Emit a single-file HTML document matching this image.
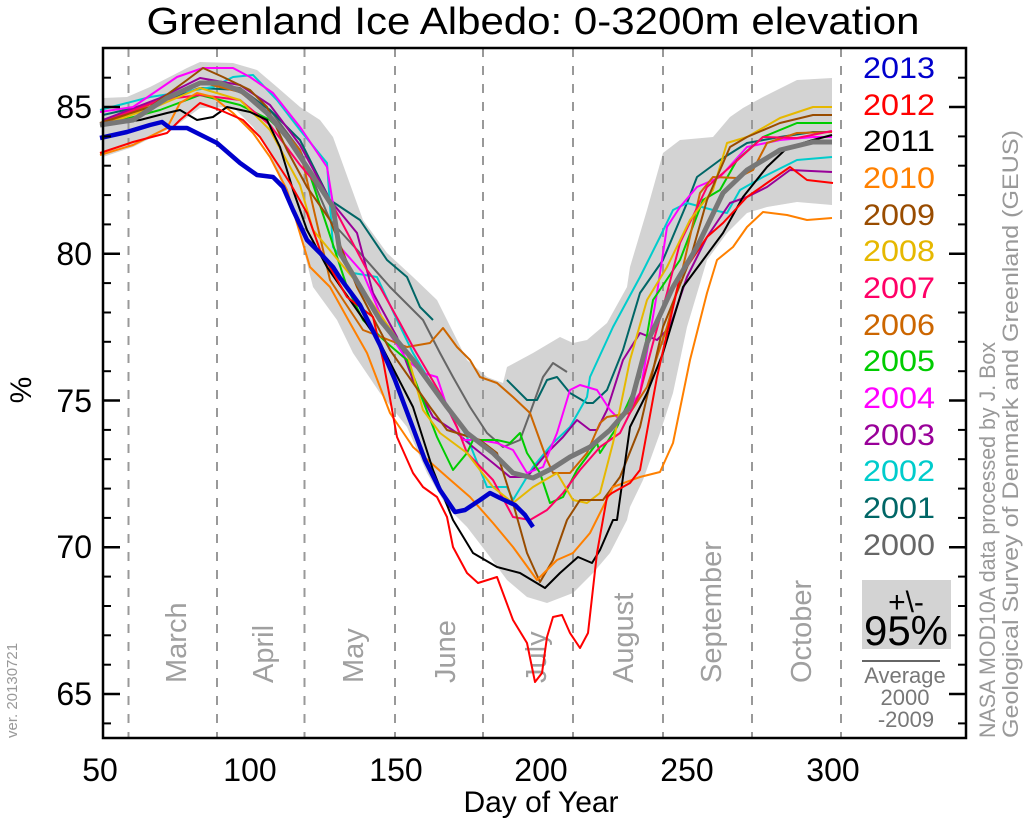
<!DOCTYPE html>
<html><head><meta charset="utf-8"><style>
html,body{margin:0;padding:0;background:#fff}
svg{display:block}
text{font-family:"Liberation Sans",sans-serif}
</style></head><body>
<svg width="1024" height="825" viewBox="0 0 1024 825" xmlns="http://www.w3.org/2000/svg">
<rect width="1024" height="825" fill="#fff"/>
<text x="533" y="34" font-size="38" text-anchor="middle" textLength="773" lengthAdjust="spacingAndGlyphs">Greenland Ice Albedo: 0-3200m elevation</text>

<polygon fill="#d3d3d3" points="103,98 127,97 150,87 187,68 200,62 233,63 257,70 277,87 300,107 320,120 333,137 363,220 387,253 413,277 437,300 447,320 467,360 487,377 503,383 507,367 533,353 560,337 573,343 587,340 607,323 627,287 630,267 647,210 663,153 680,140 713,137 730,117 743,108 763,97 797,80 832,78 832,205 797,202 767,207 747,213 727,233 707,260 687,327 673,393 660,433 643,480 630,507 627,520 610,553 593,573 573,593 547,603 527,597 507,580 487,553 467,527 447,507 427,473 407,427 380,393 353,353 337,320 313,287 297,223 280,180 267,147 253,127 233,107 200,108 177,125 133,147 103,157"/>

<g stroke="#999" stroke-width="2" stroke-dasharray="9,9">
<line x1="128.5" y1="48" x2="128.5" y2="738"/><line x1="217" y1="48" x2="217" y2="738"/><line x1="304.5" y1="48" x2="304.5" y2="738"/><line x1="395" y1="48" x2="395" y2="738"/><line x1="483" y1="48" x2="483" y2="738"/><line x1="573" y1="48" x2="573" y2="738"/><line x1="663" y1="48" x2="663" y2="738"/><line x1="752" y1="48" x2="752" y2="738"/><line x1="841" y1="48" x2="841" y2="738"/>
</g>
<g fill="#a0a0a0" font-size="29">
<text transform="translate(186,683) rotate(-90)">March</text>
<text transform="translate(273,683) rotate(-90)">April</text>
<text transform="translate(363,683) rotate(-90)">May</text>
<text transform="translate(455,683) rotate(-90)">June</text>
<text transform="translate(546,683) rotate(-90)">July</text>
<text transform="translate(633,683) rotate(-90)">August</text>
<text transform="translate(721,683) rotate(-90)">September</text>
<text transform="translate(811,683) rotate(-90)">October</text>
</g>

<g fill="none" stroke-width="2" stroke-linejoin="round">
<polyline stroke="#666" points="103,120 160,100 200,82 240,88 270,110 300,150 330,220 360,253 390,287 423,320 440,353 453,377 470,407 487,433 503,447 520,440 530,413 543,377 553,363 567,372"/>
<polyline stroke="#006666" points="103,115 160,102 200,88 240,90 270,110 300,140 330,200 360,220 387,260 407,277 420,307 433,320"/>
<polyline stroke="#006666" points="507,380 527,400 537,400 547,380 557,377 570,393 587,403 593,403 607,390 623,350 640,293 663,260 687,203 697,177 720,160 747,143 780,137 813,132 832,132"/>
<polyline stroke="#00cccc" points="100,110 150,97 183,92 213,87 233,77 253,75 277,100 300,130 327,163 333,247 353,273 377,277 397,320 413,353 437,393 453,413 467,437 487,487 507,487 513,500 533,467 553,443 570,427 587,397 590,377 613,327 640,277 660,237 673,210 687,203 713,210 727,213 740,190 763,177 797,160 832,157"/>
<polyline stroke="#990099" points="103,120 160,98 200,78 240,85 270,105 300,145 330,200 357,233 373,293 397,337 413,380 433,417 457,433 473,447 493,463 510,477 527,477 547,453 563,437 577,420 590,430 597,430 607,410 623,360 640,333 657,340 670,327 687,277 707,237 730,203 747,197 767,187 790,170 832,172"/>
<polyline stroke="#ff00ff" points="100,112 133,107 177,77 203,68 233,68 250,77 273,93 300,127 327,167 340,247 363,273 387,330 407,360 423,373 437,377 447,407 463,440 480,440 497,443 513,450 527,473 543,467 557,433 570,390 580,385 597,390 610,410 620,420 640,393 657,293 667,227 680,207 697,187 720,177 747,147 780,140 813,137 832,137"/>
<polyline stroke="#00cc00" points="103,125 160,110 200,95 240,105 270,120 290,140 310,175 347,287 363,320 387,343 407,360 420,393 437,437 453,470 467,453 473,440 497,440 510,443 520,433 527,453 540,473 550,503 563,497 577,470 597,443 600,453 617,427 640,377 653,300 680,260 703,200 720,190 737,160 763,137 797,123 832,123"/>
<polyline stroke="#cc6600" points="103,125 160,100 200,82 240,92 270,115 300,150 330,280 363,330 407,347 430,343 443,328 457,347 470,360 480,377 497,383 513,397 530,413 547,460 553,473 570,473 587,453 600,423 607,417 630,413 647,387 667,327 683,267 700,193 713,177 737,178 753,170 767,143 797,133 832,132"/>
<polyline stroke="#ff0066" points="103,122 160,100 200,95 240,100 270,125 300,165 330,200 367,270 380,287 400,323 413,347 440,393 457,427 467,453 493,480 513,517 530,520 547,510 563,493 580,470 600,447 620,433 640,393 653,343 667,293 680,243 707,187 730,167 763,137 797,138 832,131"/>
<polyline stroke="#e6b800" points="103,125 160,105 200,88 240,100 270,130 300,185 313,230 363,290 407,353 423,410 440,433 467,453 493,487 513,503 533,487 557,473 573,500 587,503 600,493 613,443 630,360 647,300 667,267 690,220 713,190 727,143 747,137 780,118 813,107 832,107"/>
<polyline stroke="#994c00" points="100,123 150,107 187,80 203,68 223,77 250,90 267,107 287,150 307,187 330,220 357,287 390,350 430,407 447,430 480,440 497,453 513,503 527,553 540,582 553,560 567,520 580,500 603,500 620,477 640,427 663,327 690,260 707,200 720,170 730,147 747,137 780,123 813,115 832,115"/>
<polyline stroke="#ff8000" points="100,155 133,145 167,128 180,103 197,93 213,97 233,113 253,133 270,157 287,190 310,267 330,287 350,323 367,353 390,413 413,447 447,477 470,497 493,523 513,547 537,580 557,560 573,553 590,533 613,487 640,477 660,472 673,443 690,360 707,293 717,260 733,247 747,227 763,212 787,215 807,220 832,218"/>
<polyline stroke="#000" points="100,125 140,120 167,113 180,110 197,120 213,117 227,107 250,112 267,120 280,147 293,190 307,230 327,267 380,343 413,407 433,470 453,520 473,553 497,567 520,573 545,588 560,573 578,557 592,563 600,550 613,520 617,520 630,427 647,393 663,353 683,287 703,260 723,233 743,197 767,167 787,148 813,140 832,135"/>
<polyline stroke="#ff0000" points="100,153 133,142 167,133 180,120 200,103 220,110 243,120 260,137 273,157 290,183 307,213 320,250 347,297 373,317 383,360 397,437 413,473 423,487 437,497 447,517 453,547 467,573 478,583 497,577 513,620 527,643 535,682 542,673 547,637 553,617 562,615 570,633 580,648 588,633 597,553 607,497 612,493 630,483 640,470 657,377 680,277 707,237 723,223 747,197 767,183 790,167 807,180 833,183"/>
</g>
<polyline fill="none" stroke="#777" stroke-width="5" stroke-linejoin="round" points="100,125 133,120 167,98 200,83 220,83 243,92 267,113 287,137 307,167 333,207 340,253 380,320 413,360 447,407 467,433 493,453 513,473 533,478 553,468 570,457 590,447 610,430 630,407 647,343 673,287 697,247 723,193 747,170 780,150 813,142 832,142"/>
<polyline fill="none" stroke="#0000cc" stroke-width="4.5" stroke-linejoin="round" points="100,138 127,132 150,125 162,122 170,128 187,128 217,143 240,163 257,175 273,177 283,187 293,210 307,240 320,253 333,267 340,278 360,305 380,345 395,380 410,420 425,460 440,490 455,512 465,510 480,500 490,493 500,498 515,505 525,515 533,527"/>

<rect x="103" y="48" width="863" height="690" fill="none" stroke="#000" stroke-width="2.5"/>
<g stroke="#000" stroke-width="2.5">
<line x1="103" y1="107" x2="120" y2="107"/><line x1="103" y1="253.8" x2="120" y2="253.8"/><line x1="103" y1="400.5" x2="120" y2="400.5"/><line x1="103" y1="547.3" x2="120" y2="547.3"/><line x1="103" y1="694" x2="120" y2="694"/>
<line x1="966" y1="107" x2="949" y2="107"/><line x1="966" y1="253.8" x2="949" y2="253.8"/><line x1="966" y1="400.5" x2="949" y2="400.5"/><line x1="966" y1="547.3" x2="949" y2="547.3"/><line x1="966" y1="694" x2="949" y2="694"/>
</g>
<g stroke="#000" stroke-width="2">
<line x1="103" y1="77.7" x2="111" y2="77.7"/><line x1="103" y1="136.4" x2="111" y2="136.4"/><line x1="103" y1="165.7" x2="111" y2="165.7"/><line x1="103" y1="195.1" x2="111" y2="195.1"/><line x1="103" y1="224.4" x2="111" y2="224.4"/>
<line x1="103" y1="283.1" x2="111" y2="283.1"/><line x1="103" y1="312.5" x2="111" y2="312.5"/><line x1="103" y1="341.8" x2="111" y2="341.8"/><line x1="103" y1="371.2" x2="111" y2="371.2"/>
<line x1="103" y1="429.9" x2="111" y2="429.9"/><line x1="103" y1="459.2" x2="111" y2="459.2"/><line x1="103" y1="488.6" x2="111" y2="488.6"/><line x1="103" y1="517.9" x2="111" y2="517.9"/>
<line x1="103" y1="576.6" x2="111" y2="576.6"/><line x1="103" y1="606" x2="111" y2="606"/><line x1="103" y1="635.3" x2="111" y2="635.3"/><line x1="103" y1="664.7" x2="111" y2="664.7"/><line x1="103" y1="723.4" x2="111" y2="723.4"/>
<line x1="966" y1="77.7" x2="958" y2="77.7"/><line x1="966" y1="136.4" x2="958" y2="136.4"/><line x1="966" y1="165.7" x2="958" y2="165.7"/><line x1="966" y1="195.1" x2="958" y2="195.1"/><line x1="966" y1="224.4" x2="958" y2="224.4"/>
<line x1="966" y1="283.1" x2="958" y2="283.1"/><line x1="966" y1="312.5" x2="958" y2="312.5"/><line x1="966" y1="341.8" x2="958" y2="341.8"/><line x1="966" y1="371.2" x2="958" y2="371.2"/>
<line x1="966" y1="429.9" x2="958" y2="429.9"/><line x1="966" y1="459.2" x2="958" y2="459.2"/><line x1="966" y1="488.6" x2="958" y2="488.6"/><line x1="966" y1="517.9" x2="958" y2="517.9"/>
<line x1="966" y1="576.6" x2="958" y2="576.6"/><line x1="966" y1="606" x2="958" y2="606"/><line x1="966" y1="635.3" x2="958" y2="635.3"/><line x1="966" y1="664.7" x2="958" y2="664.7"/><line x1="966" y1="723.4" x2="958" y2="723.4"/>
</g>

<g font-size="32" text-anchor="end">
<text x="92" y="118">85</text><text x="92" y="265">80</text><text x="92" y="412">75</text><text x="92" y="558">70</text><text x="92" y="705">65</text>
</g>
<text transform="translate(31,390) rotate(-90)" font-size="30" text-anchor="middle">%</text>
<text transform="translate(17,738) rotate(-90)" font-size="15" fill="#999">ver. 20130721</text>

<g font-size="32" text-anchor="middle">
<text x="100" y="781">50</text><text x="250" y="781">100</text><text x="396" y="781">150</text><text x="541" y="781">200</text><text x="687" y="781">250</text><text x="833" y="781">300</text>
</g>
<text x="541" y="812" font-size="30" text-anchor="middle">Day of Year</text>

<g font-size="30">
<text x="863" y="78" fill="#0000cc" textLength="72" lengthAdjust="spacingAndGlyphs">2013</text>
<text x="863" y="115" fill="#ff0000" textLength="72" lengthAdjust="spacingAndGlyphs">2012</text>
<text x="863" y="151" fill="#000" textLength="72" lengthAdjust="spacingAndGlyphs">2011</text>
<text x="863" y="188" fill="#ff8000" textLength="72" lengthAdjust="spacingAndGlyphs">2010</text>
<text x="863" y="225" fill="#994c00" textLength="72" lengthAdjust="spacingAndGlyphs">2009</text>
<text x="863" y="261" fill="#e6b800" textLength="72" lengthAdjust="spacingAndGlyphs">2008</text>
<text x="863" y="298" fill="#ff0066" textLength="72" lengthAdjust="spacingAndGlyphs">2007</text>
<text x="863" y="335" fill="#cc6600" textLength="72" lengthAdjust="spacingAndGlyphs">2006</text>
<text x="863" y="371" fill="#00cc00" textLength="72" lengthAdjust="spacingAndGlyphs">2005</text>
<text x="863" y="408" fill="#ff00ff" textLength="72" lengthAdjust="spacingAndGlyphs">2004</text>
<text x="863" y="445" fill="#990099" textLength="72" lengthAdjust="spacingAndGlyphs">2003</text>
<text x="863" y="481" fill="#00cccc" textLength="72" lengthAdjust="spacingAndGlyphs">2002</text>
<text x="863" y="518" fill="#006666" textLength="72" lengthAdjust="spacingAndGlyphs">2001</text>
<text x="863" y="555" fill="#666" textLength="72" lengthAdjust="spacingAndGlyphs">2000</text>
</g>
<rect x="862" y="580" width="89" height="69" fill="#d3d3d3"/>
<text x="906" y="612" font-size="30" text-anchor="middle">+\-</text>
<text x="906" y="645" font-size="42" text-anchor="middle">95%</text>
<line x1="862" y1="661" x2="940" y2="661" stroke="#666" stroke-width="2"/>
<g fill="#777" font-size="22" text-anchor="middle">
<text x="905" y="683">Average</text><text x="905" y="705">2000</text><text x="906" y="727">-2009</text>
</g>
<g fill="#999" font-size="22">
<text transform="translate(995,738) rotate(-90)" textLength="396" lengthAdjust="spacingAndGlyphs">NASA MOD10A data processed by J. Box</text>
<text transform="translate(1018,738) rotate(-90)" textLength="608" lengthAdjust="spacingAndGlyphs">Geological Survey of Denmark and Greenland (GEUS)</text>
</g>
</svg>
</body></html>
